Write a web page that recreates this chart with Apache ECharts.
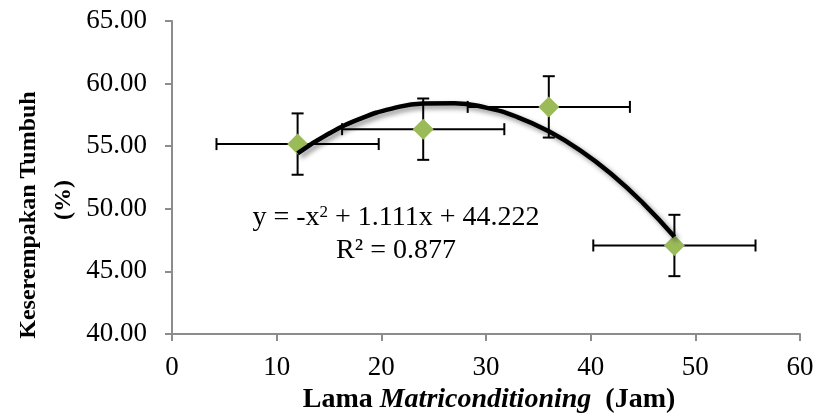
<!DOCTYPE html>
<html>
<head>
<meta charset="utf-8">
<style>
  html, body { margin: 0; padding: 0; background: #fff; }
  #chart { width: 818px; height: 416px; }
</style>
<script src="https://cdn.jsdelivr.net/npm/echarts@6/dist/echarts.min.js"></script>
</head>
<body>
<div id="chart"></div>
<script>
// measured points (jam vs %)
const lamaJam = [12, 24, 36, 48]
const keserempakan = [55.17, 56.36, 58.14, 47.07]
const errX = [7.75, 7.75, 7.75, 7.75]
const errY = [2.45, 2.45, 2.45, 2.45]

// polynomial trendline
const trendX = [12, 15, 18, 21, 24, 27, 30, 33, 36, 39, 42, 45, 48]
const trendY = [54.43, 56.01, 57.2, 58.0, 58.41, 58.44, 58.08, 57.33, 56.19, 54.67, 52.76, 50.46, 47.77]

const xMin = 0
const xMax = 60
const xStep = 10
const yMin = 40
const yMax = 65
const yStep = 5

const serif = '"Liberation Serif", "Times New Roman", serif'
const axisGray = '#8c8c8c'

const chart = echarts.init(document.getElementById('chart'), null, { renderer: 'canvas' })

const errorData = lamaJam.map((x, i) => [x, keserempakan[i], errX[i], errY[i]])

const renderErrorBar = (params, api) => {
  const x = api.value(0)
  const y = api.value(1)
  const ex = api.value(2)
  const ey = api.value(3)
  const left = api.coord([x - ex, y])
  const right = api.coord([x + ex, y])
  const top = api.coord([x, y + ey])
  const bottom = api.coord([x, y - ey])
  const cap = 6
  const style = { stroke: '#000', lineWidth: 2 }
  const seg = (x1, y1, x2, y2) => ({ type: 'line', shape: { x1, y1, x2, y2 }, style })
  return {
    type: 'group',
    children: [
      seg(left[0], left[1], right[0], right[1]),
      seg(left[0], left[1] - cap, left[0], left[1] + cap),
      seg(right[0], right[1] - cap, right[0], right[1] + cap),
      seg(top[0], top[1], bottom[0], bottom[1]),
      seg(top[0] - cap, top[1], top[0] + cap, top[1]),
      seg(bottom[0] - cap, bottom[1], bottom[0] + cap, bottom[1])
    ]
  }
}

chart.setOption({
  backgroundColor: '#fff',
  animation: false,
  grid: { left: 172, right: 18, top: 21, bottom: 82 },
  xAxis: {
    type: 'value',
    min: xMin,
    max: xMax,
    interval: xStep,
    axisLine: { show: true, lineStyle: { color: axisGray, width: 2 } },
    axisTick: { show: true, length: 7, lineStyle: { color: axisGray, width: 2 } },
    splitLine: { show: false },
    axisLabel: { color: '#000', fontFamily: serif, fontSize: 27, margin: 20 }
  },
  yAxis: {
    type: 'value',
    min: yMin,
    max: yMax,
    interval: yStep,
    axisLine: { show: true, lineStyle: { color: axisGray, width: 2 } },
    axisTick: { show: true, length: 7, lineStyle: { color: axisGray, width: 2 } },
    splitLine: { show: false },
    axisLabel: {
      color: '#000',
      fontFamily: serif,
      fontSize: 27,
      margin: 25,
      formatter: (v) => v.toFixed(2)
    }
  },
  series: [
    {
      type: 'custom',
      renderItem: renderErrorBar,
      data: errorData,
      encode: { x: 0, y: 1 },
      z: 2
    },
    {
      type: 'scatter',
      symbol: 'diamond',
      symbolSize: 21,
      data: lamaJam.map((x, i) => [x, keserempakan[i]]),
      itemStyle: { color: '#9bbb59', opacity: 1 },
      z: 3
    },
    {
      type: 'line',
      smooth: 0.5,
      showSymbol: false,
      data: trendX.map((x, i) => [x, trendY[i]]),
      lineStyle: {
        color: '#000',
        width: 4.5,
        shadowColor: 'rgba(0, 0, 0, 0.45)',
        shadowBlur: 5,
        shadowOffsetX: 3,
        shadowOffsetY: 3
      },
      z: 4
    }
  ],
  graphic: [
    {
      type: 'text',
      x: 396,
      y: 218,
      style: {
        text: '{n|y = -x}{s|2}{n| + 1.111x + 44.222}',
        textAlign: 'center',
        textVerticalAlign: 'middle',
        fill: '#000',
        rich: {
          n: { fontFamily: serif, fontSize: 28, color: '#000' },
          s: { fontFamily: serif, fontSize: 17, color: '#000', verticalAlign: 'top' }
        }
      }
    },
    {
      type: 'text',
      x: 396,
      y: 251,
      style: {
        text: 'R² = 0.877',
        font: '28px ' + serif,
        textAlign: 'center',
        textVerticalAlign: 'middle',
        fill: '#000'
      }
    },
    {
      type: 'text',
      x: 29,
      y: 215,
      rotation: Math.PI / 2,
      style: {
        text: 'Keserempakan Tumbuh',
        font: 'bold 24px ' + serif,
        textAlign: 'center',
        textVerticalAlign: 'middle',
        fill: '#000'
      }
    },
    {
      type: 'text',
      x: 64,
      y: 200,
      rotation: Math.PI / 2,
      style: {
        text: '(%)',
        font: 'bold 24px ' + serif,
        textAlign: 'center',
        textVerticalAlign: 'middle',
        fill: '#000'
      }
    },
    {
      type: 'text',
      x: 489,
      y: 400,
      style: {
        text: '{b|Lama }{i|Matriconditioning}{b|  (Jam)}',
        textAlign: 'center',
        textVerticalAlign: 'middle',
        fill: '#000',
        rich: {
          b: { fontFamily: serif, fontSize: 28, fontWeight: 'bold', color: '#000' },
          i: { fontFamily: serif, fontSize: 28, fontWeight: 'bold', fontStyle: 'italic', color: '#000' }
        }
      }
    }
  ]
})

window.addEventListener('resize', () => chart.resize())
</script>
</body>
</html>
